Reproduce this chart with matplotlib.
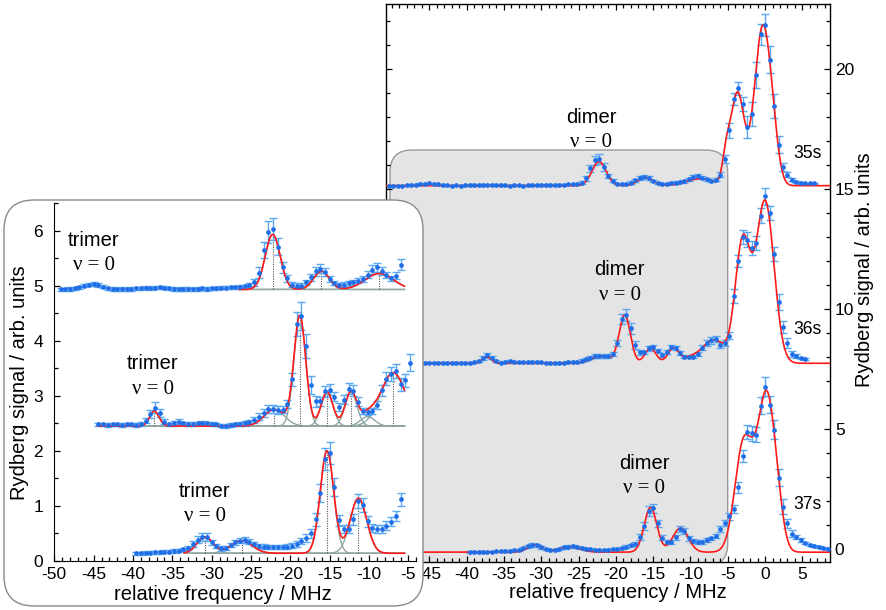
import numpy as np
import matplotlib
matplotlib.use("Agg")
import matplotlib.pyplot as plt
from matplotlib.patches import FancyBboxPatch
from matplotlib.ticker import MultipleLocator

W, H = 886, 610
plt.rcParams["font.family"] = "Liberation Sans"
plt.rcParams["axes.unicode_minus"] = False

BLUE = "#1f6ee8"
BAR = "#5aa8f2"
RED = "#ff1a1a"
COMP = "#8fa6a2"
SERIF = "Liberation Serif"

# ---- spectra: scan start / step (MHz) and signal above baseline ----
STEP = 0.6
start35, start36, start37 = -50.4, -45.6, -39.6

sig35 = [0.00, 0.00,
         0.00, 0.00, 0.01, 0.02, 0.04, 0.07, 0.09, 0.10, 0.08, 0.05,
         0.02, 0.01, 0.00, 0.01, 0.00, 0.01, 0.02, 0.02, 0.03, 0.02,
         0.03, 0.04, 0.03, 0.02, 0.01, 0.00, 0.01, 0.01, 0.00, 0.01,
         0.02, 0.01, 0.02, 0.02, 0.03, 0.03, 0.04, 0.04, 0.05, 0.06,
         0.08, 0.13, 0.30, 0.72, 1.05, 1.10, 0.78, 0.40, 0.20, 0.09,
         0.07, 0.07, 0.13, 0.22, 0.33, 0.38, 0.32, 0.19, 0.12, 0.08,
         0.09, 0.11, 0.13, 0.16, 0.19, 0.27, 0.36, 0.40, 0.33, 0.26,
         0.20, 0.25, 0.45, 1.10, 2.30, 3.60, 4.05, 3.40, 2.45, 3.00,
         4.60, 6.30, 6.70, 5.25, 3.30, 1.70, 0.78, 0.45, 0.25, 0.16,
         0.12, 0.10, 0.10, 0.10]
err35 = [0.03] * 42 + [
         0.04, 0.06, 0.10, 0.15, 0.20, 0.20, 0.15, 0.10, 0.06, 0.04,
         0.04, 0.04, 0.05, 0.06, 0.08, 0.08, 0.07, 0.05, 0.04, 0.04,
         0.04, 0.04, 0.05, 0.05, 0.06, 0.07, 0.08, 0.08, 0.07, 0.06,
         0.05, 0.06, 0.10, 0.16, 0.30, 0.25, 0.28, 0.30, 0.45, 0.50,
         0.55, 0.45, 0.45, 0.55, 0.50, 0.35, 0.18, 0.10, 0.07, 0.05,
         0.04, 0.03, 0.03, 0.03]

sig36 = [0.03, 0.03,
         0.03, 0.03, 0.02, 0.03, 0.03, 0.02, 0.03, 0.03, 0.02, 0.04,
         0.10, 0.22, 0.33, 0.24, 0.08, 0.03, 0.05, 0.08, 0.05, 0.04,
         0.04, 0.05, 0.06, 0.05, 0.04, 0.03, 0.01, 0.00, 0.02, 0.03,
         0.04, 0.05, 0.07, 0.11, 0.17, 0.24, 0.31, 0.31, 0.29, 0.30,
         0.40, 0.85, 1.85, 2.00, 1.45, 0.75, 0.45, 0.45, 0.63, 0.66,
         0.53, 0.35, 0.48, 0.68, 0.64, 0.44, 0.27, 0.26, 0.27, 0.38,
         0.65, 0.86, 0.95, 1.00, 0.76, 0.83, 1.15, 2.80, 4.25, 5.25,
         5.15, 4.80, 5.00, 6.15, 6.95, 6.25, 4.55, 2.55, 1.50, 0.85,
         0.40, 0.30, 0.22, 0.17]
err36 = [0.03] * 12 + [
         0.04, 0.07, 0.10, 0.07, 0.04, 0.03, 0.04, 0.04, 0.03, 0.03] + [0.03] * 10 + [
         0.04, 0.04, 0.04, 0.05, 0.06, 0.07, 0.07, 0.07, 0.07, 0.07,
         0.08, 0.12, 0.22, 0.25, 0.22, 0.16, 0.10, 0.08, 0.10, 0.10,
         0.08, 0.07, 0.08, 0.10, 0.10, 0.08, 0.06, 0.06, 0.06, 0.07,
         0.10, 0.12, 0.13, 0.12, 0.12, 0.12, 0.15, 0.30, 0.25, 0.30,
         0.30, 0.30, 0.30, 0.30, 0.35, 0.30, 0.30, 0.35, 0.25, 0.20,
         0.12, 0.08, 0.06, 0.05]

sig37 = [0.00, 0.00, 0.01, 0.01, 0.02, 0.02, 0.03, 0.03, 0.04, 0.05,
         0.07, 0.10, 0.17, 0.25, 0.30, 0.29, 0.20, 0.13, 0.09, 0.10,
         0.15, 0.20, 0.23, 0.24, 0.21, 0.17, 0.13, 0.12, 0.11, 0.11,
         0.11, 0.11, 0.12, 0.14, 0.17, 0.22, 0.28, 0.36, 0.62, 1.10,
         1.72, 1.82, 1.20, 0.60, 0.44, 0.44, 0.62, 0.95, 0.88, 0.58,
         0.46, 0.44, 0.44, 0.50, 0.57, 0.68, 0.98, 1.20, 1.50, 1.80,
         2.70, 4.00, 5.00, 4.95, 4.90, 6.10, 6.90, 6.15, 5.10, 3.10,
         1.90, 1.20, 0.77, 0.63, 0.50, 0.38, 0.30, 0.25, 0.22, 0.17,
         0.12]
err37 = [0.03] * 10 + [
         0.03, 0.04, 0.05, 0.06, 0.07, 0.07, 0.05, 0.04, 0.04, 0.04,
         0.04, 0.05, 0.05, 0.05, 0.05, 0.04, 0.04, 0.04, 0.04, 0.04,
         0.04, 0.04, 0.04, 0.05, 0.05, 0.06, 0.07, 0.08, 0.12, 0.16,
         0.20, 0.20, 0.16, 0.10, 0.08, 0.08, 0.10, 0.13, 0.13, 0.10,
         0.08, 0.08, 0.08, 0.08, 0.08, 0.09, 0.12, 0.12, 0.14, 0.18,
         0.22, 0.25, 0.30, 0.30, 0.32, 0.35, 0.40, 0.35, 0.40, 0.35,
         0.30, 0.20, 0.15, 0.10, 0.08, 0.06, 0.05, 0.05, 0.04, 0.04,
         0.04]

# ---- Gaussian fit components: centre, amplitude, sigma (MHz) ----
# the first n_trimer entries are the dimer/trimer lines shown in the inset
fit35_c = [-22.25, -16.05, -8.7, -5.2, -3.7, -0.4, 1.0]
fit35_a = [1.0, 0.33, 0.29, 1.0, 3.85, 6.35, 1.4]
fit35_w = [0.95, 1.0, 1.8, 0.5, 0.9, 1.05, 0.8]
fit36_c = [-37.3, -22.05, -18.8, -15.35, -12.3, -10.2, -6.93, -3.0, 0.0]
fit36_a = [0.27, 0.3, 2.0, 0.62, 0.62, 0.17, 0.97, 5.0, 6.75]
fit36_w = [0.6, 1.3, 0.75, 0.75, 0.75, 0.9, 1.6, 1.0, 1.2]
fit37_c = [-30.85, -26.2, -15.35, -11.35, -2.8, -1.5, 0.0, 1.4]
fit37_a = [0.3, 0.23, 1.86, 1.0, 4.7, 0.4, 5.7, 2.3]
fit37_w = [1.0, 1.35, 0.85, 1.05, 1.2, 0.6, 1.0, 0.9]

# offsets of the stacked spectra
main_base = [15.15, 7.75, -0.12]
inset_base = [4.93, 2.45, 0.14]
inset_frange = [(-49.3, -5.9), (-44.5, -4.7), (-40.0, -5.9)]   # points shown in the inset
inset_win = [(-26.5, -5.5), (-44.5, -5.5), (-33.5, -5.5)]
n_trimer = [3, 7, 4]
labels = ["35s", "36s", "37s"]
main_xticks = [-45, -40, -35, -30, -25, -20, -15, -10, -5, 0, 5]

spectra = [
    (start35, sig35, err35, fit35_c, fit35_a, fit35_w),
    (start36, sig36, err36, fit36_c, fit36_a, fit36_w),
    (start37, sig37, err37, fit37_c, fit37_a, fit37_w),
]


def gauss(x, c, a, w):
    return a * np.exp(-0.5 * ((x - c) / w) ** 2)


def gsum(x, cs, amps, ws):
    return sum(gauss(x, c, a, w) for c, a, w in zip(cs, amps, ws))


def fx(px):
    return px / W


def fy(py):
    return 1 - py / H


def draw_points(ax, f, s, e, base):
    ax.errorbar(f, s + base, yerr=e, fmt="none", ecolor=BAR, elinewidth=1.0,
                capsize=3, capthick=1.0, zorder=2)
    ax.plot(f, s + base, "o", ms=3.4, mfc=BLUE, mec=BLUE, mew=0, zorder=4)


def rounded(x0, y0, x1, y1, r, **kw):
    # box given in pixels from the top-left corner
    return FancyBboxPatch((fx(x0), fy(y1)), (x1 - x0) / W, (y1 - y0) / H,
                          boxstyle=f"round,pad=0,rounding_size={r / W}",
                          mutation_aspect=W / H, **kw)


fig = plt.figure(figsize=(W / 100, H / 100), dpi=100)

# ================= main panel =================
ax = fig.add_axes([fx(386), fy(562), (830 - 386) / W, (562 - 4) / H])
ax.set_xlim(-50.8, 8.7)
ax.set_ylim(-0.53, 22.72)

ax.add_patch(rounded(390, 150, 727.7, 566, 22, transform=fig.transFigure,
                     facecolor="#e4e4e4", edgecolor="#9a9a9a", lw=1.0, zorder=0.5))

xx = np.linspace(-50.8, 8.7, 1200)
for (f0, s, e, c, a, w), base in zip(spectra, main_base):
    f = f0 + STEP * np.arange(len(s))
    ax.plot(xx, base + gsum(xx, c, a, w), color=RED, lw=1.2, zorder=3)
    draw_points(ax, f, np.array(s), np.array(e), base)

for lab, yt in zip(labels, [16.5, 9.17, 1.85]):
    ax.text(5.72, yt, lab, ha="center", va="center", fontsize=12.7)
for xt, yt in [(-23.3, 18.0), (-19.5, 11.64), (-16.2, 3.58)]:
    ax.text(xt, yt, "dimer", ha="center", va="center", fontsize=14.5)
    ax.text(xt, yt - 1.05, "ν = 0", ha="center", va="center", fontsize=15,
            family=SERIF)

ax.set_xticks(main_xticks)
ax.xaxis.set_minor_locator(MultipleLocator(1))
ax.yaxis.set_major_locator(MultipleLocator(5))
ax.yaxis.set_minor_locator(MultipleLocator(1))
ax.tick_params(which="both", direction="in", top=True, bottom=True, left=True,
               right=True, labelleft=False, labelright=True, labelsize=12.5,
               width=0.9)
ax.tick_params(which="major", length=4.5)
ax.tick_params(which="minor", length=3)
for sp in ax.spines.values():
    sp.set_linewidth(1.0)

fig.text(fx(618), fy(593), "relative frequency / MHz", ha="center", va="center",
         fontsize=14.5)
fig.text(fx(864), fy(270), "Rydberg signal / arb. units", ha="center",
         va="center", rotation=90, fontsize=14.5)

# ================= inset panel =================
fig.add_artist(rounded(4, 200, 423, 606, 30, transform=fig.transFigure,
                       facecolor="white", edgecolor="#8a8a8a", lw=1.0, zorder=1))

ins = fig.add_axes([fx(54.3), fy(561), (416.3 - 54.3) / W, (561 - 203) / H],
                   zorder=2)
ins.patch.set_alpha(0)
ins.set_xlim(-50, -4.0)
ins.set_ylim(0, 6.5)
for sp in ("top", "right"):
    ins.spines[sp].set_visible(False)

for (f0, s, e, c, a, w), base, (fmin, fmax), (lo, hi), nt in zip(
        spectra, inset_base, inset_frange, inset_win, n_trimer):
    f = f0 + STEP * np.arange(len(s))
    keep = (f >= fmin) & (f <= fmax)
    xw = np.linspace(lo, hi, 600)
    for ci, ai, wi in zip(c[:nt], a[:nt], w[:nt]):
        ins.plot(xw, base + gauss(xw, ci, ai, wi), color=COMP, lw=1.0, zorder=1.5)
        if ai > 0.2:
            top = base + gsum(ci, c[:nt], a[:nt], w[:nt])
            ins.vlines(ci, base, top, color="#555555", lw=0.8,
                       linestyles=(0, (1, 1.2)), zorder=1.6)
    ins.plot(xw, base + gsum(xw, c[:nt], a[:nt], w[:nt]), color=RED, lw=1.2,
             zorder=3)
    draw_points(ins, f[keep], np.array(s)[keep], np.array(e)[keep], base)

for xt, yt in [(-45.0, 5.82), (-37.5, 3.58), (-30.9, 1.26)]:
    ins.text(xt, yt, "trimer", ha="center", va="center", fontsize=14.5)
    ins.text(xt, yt - 0.46, "ν = 0", ha="center", va="center", fontsize=15,
             family=SERIF)

ins.xaxis.set_major_locator(MultipleLocator(5))
ins.xaxis.set_minor_locator(MultipleLocator(1))
ins.yaxis.set_major_locator(MultipleLocator(1))
ins.yaxis.set_minor_locator(MultipleLocator(0.5))
ins.tick_params(which="both", direction="in", labelsize=12.5, width=0.9)
ins.tick_params(which="major", length=4.5)
ins.tick_params(which="minor", length=3)
ins.tick_params(axis="y", pad=8)
ins.tick_params(axis="x", pad=4.5)

fig.text(fx(223), fy(594), "relative frequency / MHz", ha="center",
         va="center", fontsize=14.5, zorder=3)
fig.text(fx(20), fy(383), "Rydberg signal / arb. units", ha="center",
         va="center", rotation=90, fontsize=14.5, zorder=3)

fig.savefig("out.png", dpi=100)
